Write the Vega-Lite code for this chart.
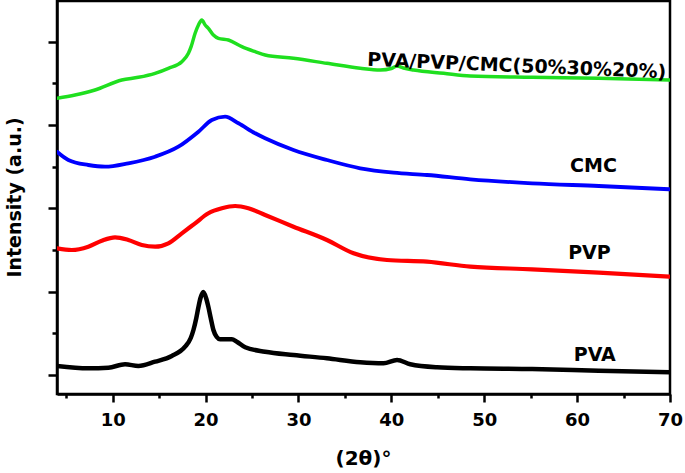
{
  "$schema": "https://vega.github.io/schema/vega-lite/v6.json",
  "width": 613,
  "height": 393,
  "autosize": {"type": "none"},
  "padding": {"left": 57, "top": 1, "right": 15, "bottom": 79},
  "background": "white",
  "config": {
    "view": {"stroke": "black", "strokeWidth": 2.5},
    "font": "DejaVu Sans"
  },
  "layer": [
    {
      "data": {
        "values": [
          {"series": "MIX", "x": 4.0, "y": 295.7},
          {"series": "MIX", "x": 5.94, "y": 299},
          {"series": "MIX", "x": 8.09, "y": 304},
          {"series": "MIX", "x": 10.97, "y": 314},
          {"series": "MIX", "x": 12.76, "y": 316.7},
          {"series": "MIX", "x": 14.56, "y": 320.7},
          {"series": "MIX", "x": 15.99, "y": 325.7},
          {"series": "MIX", "x": 17.44, "y": 332.3},
          {"series": "MIX", "x": 18.15, "y": 340.7},
          {"series": "MIX", "x": 18.44, "y": 347.3},
          {"series": "MIX", "x": 18.87, "y": 360.7},
          {"series": "MIX", "x": 19.23, "y": 369},
          {"series": "MIX", "x": 19.59, "y": 374},
          {"series": "MIX", "x": 19.95, "y": 369},
          {"series": "MIX", "x": 20.3, "y": 365.7},
          {"series": "MIX", "x": 20.84, "y": 359},
          {"series": "MIX", "x": 21.38, "y": 355.7},
          {"series": "MIX", "x": 22.46, "y": 354},
          {"series": "MIX", "x": 23.9, "y": 347.3},
          {"series": "MIX", "x": 25.34, "y": 342.3},
          {"series": "MIX", "x": 26.41, "y": 339},
          {"series": "MIX", "x": 29.46, "y": 335.7},
          {"series": "MIX", "x": 33.06, "y": 330.7},
          {"series": "MIX", "x": 36.65, "y": 325.7},
          {"series": "MIX", "x": 38.81, "y": 324},
          {"series": "MIX", "x": 40.0, "y": 325.5},
          {"series": "MIX", "x": 40.61, "y": 328},
          {"series": "MIX", "x": 41.3, "y": 326},
          {"series": "MIX", "x": 42.39, "y": 324},
          {"series": "MIX", "x": 45.63, "y": 320.7},
          {"series": "MIX", "x": 48.5, "y": 318},
          {"series": "MIX", "x": 55.15, "y": 316.7},
          {"series": "MIX", "x": 62.33, "y": 315.7},
          {"series": "MIX", "x": 70, "y": 314},

          {"series": "CMC", "x": 4.0, "y": 242.3},
          {"series": "CMC", "x": 5.22, "y": 234},
          {"series": "CMC", "x": 7.37, "y": 229},
          {"series": "CMC", "x": 9.17, "y": 227.3},
          {"series": "CMC", "x": 11.68, "y": 230.7},
          {"series": "CMC", "x": 14.56, "y": 237.3},
          {"series": "CMC", "x": 17.07, "y": 247.3},
          {"series": "CMC", "x": 19.23, "y": 262.3},
          {"series": "CMC", "x": 20.67, "y": 274},
          {"series": "CMC", "x": 22.1, "y": 277.3},
          {"series": "CMC", "x": 23.54, "y": 270.7},
          {"series": "CMC", "x": 25.34, "y": 260.7},
          {"series": "CMC", "x": 26.41, "y": 255.7},
          {"series": "CMC", "x": 29.46, "y": 244},
          {"series": "CMC", "x": 33.06, "y": 234},
          {"series": "CMC", "x": 36.65, "y": 225.7},
          {"series": "CMC", "x": 40.24, "y": 221.3},
          {"series": "CMC", "x": 43.84, "y": 219},
          {"series": "CMC", "x": 48.5, "y": 214.7},
          {"series": "CMC", "x": 55.15, "y": 210.7},
          {"series": "CMC", "x": 62.33, "y": 208},
          {"series": "CMC", "x": 70, "y": 204.7},

          {"series": "PVP", "x": 4.0, "y": 145.7},
          {"series": "PVP", "x": 5.58, "y": 144},
          {"series": "PVP", "x": 7.37, "y": 147.3},
          {"series": "PVP", "x": 8.82, "y": 153.3},
          {"series": "PVP", "x": 10.25, "y": 156.7},
          {"series": "PVP", "x": 11.68, "y": 154},
          {"series": "PVP", "x": 13.13, "y": 149},
          {"series": "PVP", "x": 14.56, "y": 147.3},
          {"series": "PVP", "x": 15.99, "y": 150.7},
          {"series": "PVP", "x": 17.44, "y": 160.7},
          {"series": "PVP", "x": 18.87, "y": 170.7},
          {"series": "PVP", "x": 20.3, "y": 180.7},
          {"series": "PVP", "x": 21.75, "y": 185.7},
          {"series": "PVP", "x": 23.18, "y": 188},
          {"series": "PVP", "x": 24.61, "y": 185.7},
          {"series": "PVP", "x": 26.41, "y": 179},
          {"series": "PVP", "x": 29.46, "y": 167.3},
          {"series": "PVP", "x": 33.06, "y": 154},
          {"series": "PVP", "x": 35.93, "y": 140.7},
          {"series": "PVP", "x": 39.53, "y": 134},
          {"series": "PVP", "x": 43.84, "y": 132.3},
          {"series": "PVP", "x": 48.5, "y": 127.3},
          {"series": "PVP", "x": 55.15, "y": 124.7},
          {"series": "PVP", "x": 62.33, "y": 121.3},
          {"series": "PVP", "x": 70, "y": 117.3},

          {"series": "PVA", "x": 4.0, "y": 28},
          {"series": "PVA", "x": 7.37, "y": 25.7},
          {"series": "PVA", "x": 9.53, "y": 26.3},
          {"series": "PVA", "x": 11.33, "y": 29.7},
          {"series": "PVA", "x": 12.76, "y": 28},
          {"series": "PVA", "x": 14.56, "y": 32.3},
          {"series": "PVA", "x": 16.36, "y": 38},
          {"series": "PVA", "x": 17.79, "y": 47.3},
          {"series": "PVA", "x": 18.4, "y": 56},
          {"series": "PVA", "x": 18.69, "y": 64},
          {"series": "PVA", "x": 19.0, "y": 76},
          {"series": "PVA", "x": 19.23, "y": 87},
          {"series": "PVA", "x": 19.45, "y": 96},
          {"series": "PVA", "x": 19.75, "y": 102},
          {"series": "PVA", "x": 20.05, "y": 96},
          {"series": "PVA", "x": 20.3, "y": 87},
          {"series": "PVA", "x": 20.55, "y": 76},
          {"series": "PVA", "x": 20.84, "y": 64},
          {"series": "PVA", "x": 21.2, "y": 57},
          {"series": "PVA", "x": 21.56, "y": 54.7},
          {"series": "PVA", "x": 22.83, "y": 54.7},
          {"series": "PVA", "x": 23.36, "y": 52.3},
          {"series": "PVA", "x": 24.26, "y": 46.7},
          {"series": "PVA", "x": 26.41, "y": 42.3},
          {"series": "PVA", "x": 29.46, "y": 39},
          {"series": "PVA", "x": 33.06, "y": 35.7},
          {"series": "PVA", "x": 36.65, "y": 31.7},
          {"series": "PVA", "x": 39.16, "y": 30.7},
          {"series": "PVA", "x": 40.61, "y": 34},
          {"series": "PVA", "x": 42.04, "y": 29.7},
          {"series": "PVA", "x": 44.92, "y": 26.7},
          {"series": "PVA", "x": 48.5, "y": 25.7},
          {"series": "PVA", "x": 55.15, "y": 25},
          {"series": "PVA", "x": 62.33, "y": 23.3},
          {"series": "PVA", "x": 70, "y": 21.7}
        ]
      },
      "mark": {"type": "line", "clip": true, "interpolate": "monotone", "strokeJoin": "round", "strokeCap": "round"},
      "encoding": {
        "x": {
          "field": "x",
          "type": "quantitative",
          "scale": {"domain": [4, 70], "nice": false, "zero": false},
          "axis": {
            "title": "(2θ)°",
            "values": [5, 10, 15, 20, 25, 30, 35, 40, 45, 50, 55, 60, 65, 70],
            "labelExpr": "datum.value % 10 === 0 ? datum.label : ''",
            "grid": false,
            "domainColor": "black",
            "domainWidth": 2.5,
            "tickColor": "black",
            "tickWidth": 2.5,
            "tickSize": {"condition": {"test": "datum.value % 10 === 0", "value": 8}, "value": 4},
            "labelFont": "DejaVu Sans",
            "labelFontWeight": "bold",
            "labelFontSize": 18,
            "labelColor": "black",
            "labelPadding": 9,
            "labelFlush": false,
            "labelOverlap": false,
            "labelBound": false,
            "titleFont": "DejaVu Sans",
            "titleFontWeight": "bold",
            "titleFontSize": 20,
            "titleColor": "black",
            "titleX": 306,
            "titleY": 64,
            "titleAlign": "center",
            "titleBaseline": "middle"
          }
        },
        "y": {
          "field": "y",
          "type": "quantitative",
          "scale": {"domain": [0, 393], "nice": false, "zero": false},
          "axis": {
            "title": "Intensity (a.u.)",
            "values": [19, 60.65, 102.3, 143.95, 185.6, 227.25, 268.9, 310.55, 352.2],
            "labels": false,
            "grid": false,
            "domainColor": "black",
            "domainWidth": 2.5,
            "tickColor": "black",
            "tickWidth": 2.5,
            "tickSize": {"condition": {"test": "round((datum.value - 19) / 41.65) % 2 === 0", "value": 9}, "value": 5},
            "titleFont": "DejaVu Sans",
            "titleFontWeight": "bold",
            "titleFontSize": 19,
            "titleColor": "black",
            "titleX": -43,
            "titleY": 196,
            "titleAngle": -90,
            "titleAlign": "center",
            "titleBaseline": "middle"
          }
        },
        "color": {
          "field": "series",
          "type": "nominal",
          "scale": {"domain": ["PVA", "PVP", "CMC", "MIX"], "range": ["#000000", "#ff0000", "#0000ff", "#1fdf1f"]},
          "legend": null
        },
        "strokeWidth": {
          "field": "series",
          "type": "ordinal",
          "scale": {"domain": ["PVA", "PVP", "CMC", "MIX"], "range": [4.5, 3.5, 3.5, 3]},
          "legend": null
        }
      }
    },
    {
      "data": {
        "values": [
          {"label": "CMC", "x": 61.76, "y": 228.5},
          {"label": "PVP", "x": 61.33, "y": 141},
          {"label": "PVA", "x": 61.9, "y": 39}
        ]
      },
      "mark": {"type": "text", "font": "DejaVu Sans", "fontWeight": "bold", "fontSize": 19, "color": "black", "align": "center", "baseline": "middle"},
      "encoding": {
        "x": {"field": "x", "type": "quantitative"},
        "y": {"field": "y", "type": "quantitative"},
        "text": {"field": "label", "type": "nominal"}
      }
    },
    {
      "data": {
        "values": [
          {"label": "PVA/PVP/CMC(50%30%20%)", "x": 53.5, "y": 328}
        ]
      },
      "mark": {"type": "text", "font": "DejaVu Sans", "fontWeight": "bold", "fontSize": 19, "color": "black", "align": "center", "baseline": "middle", "angle": 2.4},
      "encoding": {
        "x": {"field": "x", "type": "quantitative"},
        "y": {"field": "y", "type": "quantitative"},
        "text": {"field": "label", "type": "nominal"}
      }
    }
  ]
}
